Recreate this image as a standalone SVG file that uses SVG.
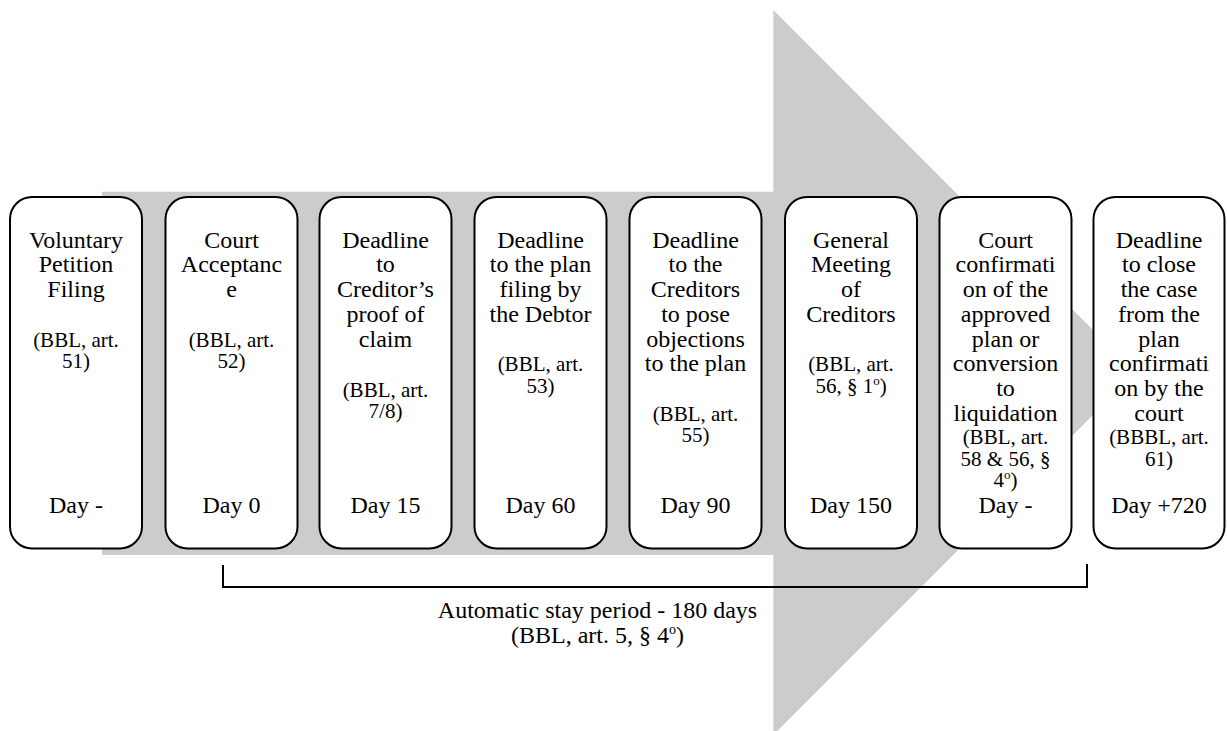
<svg xmlns="http://www.w3.org/2000/svg" width="1227" height="731" viewBox="0 0 1227 731">
<style>
.box{fill:#ffffff;stroke:#000000;stroke-width:2}
text{font-family:"Liberation Serif","Times New Roman",serif;fill:#000000;text-anchor:middle}
.t{font-size:24px}
.c{font-size:21px}
.d{font-size:24px}
.br{fill:none;stroke:#000000;stroke-width:2}
</style>
<rect width="1227" height="731" fill="#ffffff"/>
<g id="big-arrow">
<polygon points="102,191.7 773.3,191.7 773.3,10 1135.5,372.5 773.3,735 773.3,555 102,555" fill="#cccccc"/>
</g>
<g id="node1">
<rect class="box" x="10" y="197" width="132" height="351.5" rx="22"/>
<text class="t"><tspan x="76" y="247.7">Voluntary</tspan><tspan x="76" y="272.4">Petition</tspan><tspan x="76" y="297.1">Filing</tspan></text>
<text class="c"><tspan x="76" y="346.7">(BBL, art.</tspan><tspan x="76" y="368.2">51)</tspan></text>
<text class="d" x="76" y="513">Day -</text>
</g>
<g id="node2">
<rect class="box" x="165.5" y="197" width="132" height="351.5" rx="22"/>
<text class="t"><tspan x="231.5" y="247.7">Court</tspan><tspan x="231.5" y="272.4">Acceptanc</tspan><tspan x="231.5" y="297.1">e</tspan></text>
<text class="c"><tspan x="231.5" y="346.7">(BBL, art.</tspan><tspan x="231.5" y="368.2">52)</tspan></text>
<text class="d" x="231.5" y="513">Day 0</text>
</g>
<g id="node3">
<rect class="box" x="319.5" y="197" width="132" height="351.5" rx="22"/>
<text class="t"><tspan x="385.5" y="247.7">Deadline</tspan><tspan x="385.5" y="272.4">to</tspan><tspan x="385.5" y="297.1">Creditor’s</tspan><tspan x="385.5" y="321.8">proof of</tspan><tspan x="385.5" y="346.5">claim</tspan></text>
<text class="c"><tspan x="385.5" y="396.7">(BBL, art.</tspan><tspan x="385.5" y="418.2">7/8)</tspan></text>
<text class="d" x="385.5" y="513">Day 15</text>
</g>
<g id="node4">
<rect class="box" x="474.5" y="197" width="132" height="351.5" rx="22"/>
<text class="t"><tspan x="540.5" y="247.7">Deadline</tspan><tspan x="540.5" y="272.4">to the plan</tspan><tspan x="540.5" y="297.1">filing by</tspan><tspan x="540.5" y="321.8">the Debtor</tspan></text>
<text class="c"><tspan x="540.5" y="371">(BBL, art.</tspan><tspan x="540.5" y="392.5">53)</tspan></text>
<text class="d" x="540.5" y="513">Day 60</text>
</g>
<g id="node5">
<rect class="box" x="629.5" y="197" width="132" height="351.5" rx="22"/>
<text class="t"><tspan x="695.5" y="247.7">Deadline</tspan><tspan x="695.5" y="272.4">to the</tspan><tspan x="695.5" y="297.1">Creditors</tspan><tspan x="695.5" y="321.8">to pose</tspan><tspan x="695.5" y="346.5">objections</tspan><tspan x="695.5" y="371.2">to the plan</tspan></text>
<text class="c"><tspan x="695.5" y="420.5">(BBL, art.</tspan><tspan x="695.5" y="442">55)</tspan></text>
<text class="d" x="695.5" y="513">Day 90</text>
</g>
<g id="node6">
<rect class="box" x="785" y="197" width="132" height="351.5" rx="22"/>
<text class="t"><tspan x="851" y="247.7">General</tspan><tspan x="851" y="272.4">Meeting</tspan><tspan x="851" y="297.1">of</tspan><tspan x="851" y="321.8">Creditors</tspan></text>
<text class="c"><tspan x="851" y="371">(BBL, art.</tspan><tspan x="851" y="392.5">56, § 1<tspan font-size="13" dy="-8">o</tspan><tspan dy="8">)</tspan></tspan></text>
<text class="d" x="851" y="513">Day 150</text>
</g>
<g id="node7">
<rect class="box" x="939.5" y="197" width="132" height="351.5" rx="22"/>
<text class="t"><tspan x="1005.5" y="247.7">Court</tspan><tspan x="1005.5" y="272.4">confirmati</tspan><tspan x="1005.5" y="297.1">on of the</tspan><tspan x="1005.5" y="321.8">approved</tspan><tspan x="1005.5" y="346.5">plan or</tspan><tspan x="1005.5" y="371.2">conversion</tspan><tspan x="1005.5" y="395.9">to</tspan><tspan x="1005.5" y="420.6">liquidation</tspan></text>
<text class="c"><tspan x="1005.5" y="444">(BBL, art.</tspan><tspan x="1005.5" y="465.5">58 &amp; 56, §</tspan><tspan x="1005.5" y="487">4<tspan font-size="13" dy="-8">o</tspan><tspan dy="8">)</tspan></tspan></text>
<text class="d" x="1005.5" y="513">Day -</text>
</g>
<g id="node8">
<rect class="box" x="1093.5" y="197" width="131" height="351.5" rx="22"/>
<text class="t"><tspan x="1159" y="247.7">Deadline</tspan><tspan x="1159" y="272.4">to close</tspan><tspan x="1159" y="297.1">the case</tspan><tspan x="1159" y="321.8">from the</tspan><tspan x="1159" y="346.5">plan</tspan><tspan x="1159" y="371.2">confirmati</tspan><tspan x="1159" y="395.9">on by the</tspan><tspan x="1159" y="420.6">court</tspan></text>
<text class="c"><tspan x="1159" y="444">(BBBL, art.</tspan><tspan x="1159" y="465.5">61)</tspan></text>
<text class="d" x="1159" y="513">Day +720</text>
</g>
<g id="connectors">
<path class="br" d="M223,565 L223,587 L1087,587 L1087,564"/>
</g>
<g id="stay-label">
<text class="d"><tspan x="597.5" y="618.3">Automatic stay period - 180 days</tspan><tspan x="597.5" y="643.3">(BBL, art. 5, § 4<tspan font-size="14" dy="-9">o</tspan><tspan dy="9">)</tspan></tspan></text>
</g>
</svg>
